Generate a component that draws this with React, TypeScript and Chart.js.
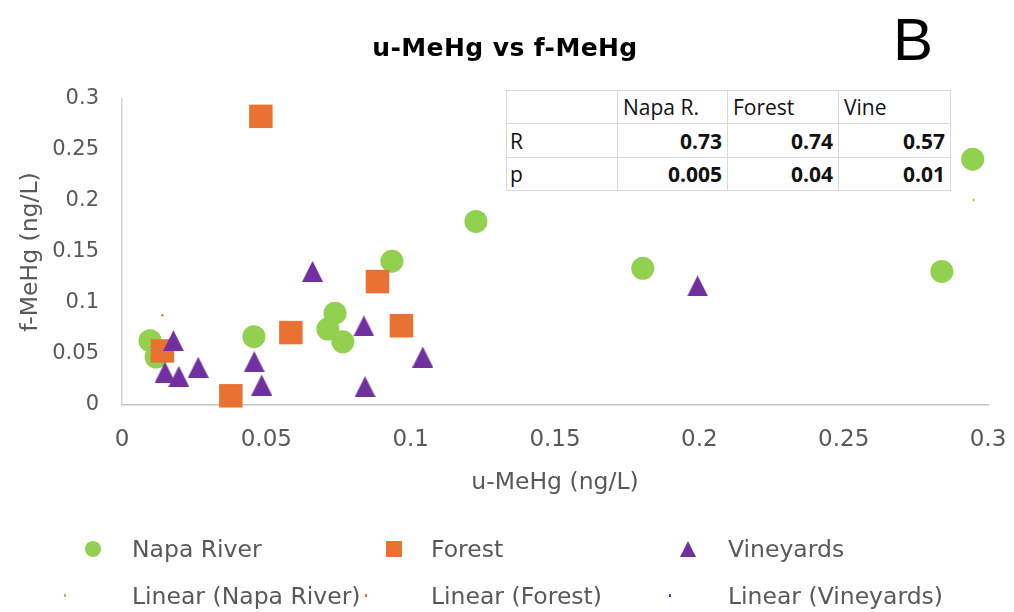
import React, { useEffect, useRef } from "react";
import { Chart, registerables } from "chart.js";

Chart.register(...registerables);

// ---- Data ----
const napaX = [0.0097, 0.0118, 0.0457, 0.0713, 0.0738, 0.0765, 0.0935, 0.1226, 0.1804, 0.284, 0.2947];
const napaY = [0.063, 0.047, 0.067, 0.0745, 0.09, 0.062, 0.141, 0.18, 0.134, 0.131, 0.241];

const forestX = [0.014, 0.0377, 0.0481, 0.0585, 0.0885, 0.0968];
const forestY = [0.053, 0.009, 0.283, 0.071, 0.121, 0.0777];

const vineX = [0.0149, 0.0178, 0.0197, 0.0264, 0.0458, 0.0484, 0.066, 0.0838, 0.0842, 0.1042, 0.1994];
const vineY = [0.032, 0.063, 0.028, 0.037, 0.0425, 0.0196, 0.131, 0.0775, 0.018, 0.047, 0.1167];

// barely visible trend-line remnants
const napaTrendX = [0.295];
const napaTrendY = [0.201];
const forestTrendX = [0.014];
const forestTrendY = [0.088];
const vineTrendX: number[] = [];
const vineTrendY: number[] = [];

const axisMin = 0;
const axisMax = 0.3;
const axisStep = 0.05;

const seriesNames = ["Napa River", "Forest", "Vineyards"];
const trendNames = ["Linear (Napa River)", "Linear (Forest)", "Linear (Vineyards)"];

const tableHeader = ["", "Napa R.", "Forest", "Vine"];
const tableRowR = ["R", "0.73", "0.74", "0.57"];
const tableRowP = ["p", "0.005", "0.04", "0.01"];

const chartTitle = "u-MeHg vs f-MeHg";
const panelLetter = "B";
const xTitle = "u-MeHg (ng/L)";
const yTitle = "f-MeHg (ng/L)";

const GREEN = "#92D050";
const ORANGE = "#E97132";
const PURPLE = "#7030A0";
const GRAY_TEXT = "#595959";
const DEJAVU = "'DejaVu Sans', sans-serif";

const pts = (xs: number[], ys: number[]) => xs.map((x, i) => ({ x, y: ys[i] }));

function makeTriangle(w: number, h: number, color: string) {
  const c = document.createElement("canvas");
  c.width = w;
  c.height = h;
  const g = c.getContext("2d")!;
  g.fillStyle = color;
  g.beginPath();
  g.moveTo(w / 2, 0);
  g.lineTo(w, h);
  g.lineTo(0, h);
  g.closePath();
  g.fill();
  return c;
}

const fmt = (v: number) => String(Number(v.toFixed(2)));

export default function App() {
  const ref = useRef<HTMLCanvasElement | null>(null);

  useEffect(() => {
    if (!ref.current) return;
    const tri = makeTriangle(21, 21, PURPLE);
    const chart = new Chart(ref.current, {
      type: "scatter",
      data: {
        datasets: [
          {
            label: seriesNames[0],
            data: pts(napaX, napaY),
            pointStyle: "circle",
            pointRadius: 11.5,
            backgroundColor: GREEN,
            borderWidth: 0,
            order: 2,
          },
          {
            label: seriesNames[1],
            data: pts(forestX, forestY),
            pointStyle: "rect",
            pointRadius: 16.6,
            backgroundColor: ORANGE,
            borderWidth: 0,
            order: 1,
          },
          {
            label: seriesNames[2],
            data: pts(vineX, vineY),
            pointStyle: tri as any,
            pointRadius: 11,
            backgroundColor: PURPLE,
            borderWidth: 0,
            order: 0,
          },
          {
            label: trendNames[0],
            data: pts(napaTrendX, napaTrendY),
            pointRadius: 1.2,
            backgroundColor: GREEN,
            borderWidth: 0,
            order: 3,
          },
          {
            label: trendNames[1],
            data: pts(forestTrendX, forestTrendY),
            pointRadius: 1.2,
            backgroundColor: ORANGE,
            borderWidth: 0,
            order: 3,
          },
          {
            label: trendNames[2],
            data: pts(vineTrendX, vineTrendY),
            pointRadius: 1.2,
            backgroundColor: PURPLE,
            borderWidth: 0,
            order: 3,
          },
        ],
      },
      options: {
        animation: false,
        responsive: false,
        devicePixelRatio: 1,
        events: [],
        clip: false as any,
        layout: { padding: { left: 0, right: 26, top: 99, bottom: 0 } },
        plugins: {
          legend: { display: false },
          tooltip: { enabled: false },
          title: { display: false },
        },
        scales: {
          x: {
            type: "linear",
            min: axisMin,
            max: axisMax,
            afterFit: (s: any) => {
              s.height = 207;
            },
            ticks: {
              stepSize: axisStep,
              padding: 3,
              color: GRAY_TEXT,
              font: { family: DEJAVU, size: 23, lineHeight: 2.75 },
              callback: (v: any) => fmt(Number(v)),
            },
            grid: { display: true, color: "rgba(0,0,0,0)", drawTicks: false },
            border: { display: true, color: "#c4c4c4", width: 1.5 },
            title: {
              display: true,
              text: xTitle,
              color: GRAY_TEXT,
              font: { family: DEJAVU, size: 23.5 },
              padding: { top: 0, bottom: 115 },
            },
          },
          y: {
            type: "linear",
            min: axisMin,
            max: axisMax,
            afterFit: (s: any) => {
              s.width = 122;
            },
            ticks: {
              stepSize: axisStep,
              padding: 23,
              color: GRAY_TEXT,
              font: { family: DEJAVU, size: 21 },
              callback: (v: any) => fmt(Number(v)),
            },
            grid: { display: true, color: "rgba(0,0,0,0)", drawTicks: false },
            border: { display: true, color: "#d4d4d4", width: 1.5 },
            title: {
              display: true,
              text: yTitle,
              color: GRAY_TEXT,
              font: { family: DEJAVU, size: 23.5 },
              padding: { top: 17, bottom: 0 },
            },
          },
        },
      },
    });
    return () => chart.destroy();
  }, []);

  const cellBase: React.CSSProperties = {
    border: "1px solid #d9d9d9",
    padding: "0 5px",
    fontFamily: "'Open Sans', sans-serif",
    fontSize: 21,
    color: "#111",
    whiteSpace: "nowrap",
  };
  const colW = [113, 110, 111, 112];
  const rowH = [33, 34, 33];

  const legendItems = [
    { name: seriesNames[0], kind: "circle", color: GREEN, mx: 93, tx: 132, cy: 549 },
    { name: seriesNames[1], kind: "square", color: ORANGE, mx: 394, tx: 431, cy: 549 },
    { name: seriesNames[2], kind: "triangle", color: PURPLE, mx: 688, tx: 728, cy: 549 },
    { name: trendNames[0], kind: "speck", color: GREEN, mx: 65, tx: 132, cy: 596 },
    { name: trendNames[1], kind: "speck", color: ORANGE, mx: 366, tx: 431, cy: 596 },
    { name: trendNames[2], kind: "speck", color: PURPLE, mx: 670, tx: 728, cy: 596 },
  ];

  const marker = (kind: string, color: string, mx: number, cy: number) => {
    if (kind === "circle")
      return <div style={{ position: "absolute", left: mx - 8, top: cy - 8, width: 16, height: 16, borderRadius: "50%", background: color }} />;
    if (kind === "square")
      return <div style={{ position: "absolute", left: mx - 8, top: cy - 8, width: 16, height: 16, background: color }} />;
    if (kind === "triangle")
      return (
        <div
          style={{
            position: "absolute",
            left: mx - 8,
            top: cy - 8,
            width: 0,
            height: 0,
            borderLeft: "8px solid transparent",
            borderRight: "8px solid transparent",
            borderBottom: `16px solid ${color}`,
          }}
        />
      );
    return <div style={{ position: "absolute", left: mx - 1, top: cy - 2, width: 2, height: 3, background: color }} />;
  };

  return (
    <div style={{ position: "absolute", left: 0, top: 0, width: 1014, height: 612, background: "#fff", overflow: "hidden" }}>
      <canvas ref={ref} width={1014} height={612} style={{ position: "absolute", left: 0, top: 0, width: 1014, height: 612 }} />
      <div
        style={{
          position: "absolute",
          left: 0,
          width: 1010,
          top: 30,
          lineHeight: "36px",
          textAlign: "center",
          fontFamily: DEJAVU,
          fontWeight: 700,
          fontSize: 25,
          letterSpacing: 0.4,
          color: "#000",
        }}
      >
        {chartTitle}
      </div>
      <div
        style={{
          position: "absolute",
          left: 893,
          top: 10,
          lineHeight: "60px",
          fontFamily: "'Liberation Sans', Arial, sans-serif",
          fontSize: 60,
          color: "#000",
        }}
      >
        {panelLetter}
      </div>
      <table
        style={{
          position: "absolute",
          left: 506,
          top: 90,
          borderCollapse: "collapse",
          tableLayout: "fixed",
          background: "#fff",
        }}
      >
        <tbody>
          {[tableHeader, tableRowR, tableRowP].map((row, ri) => (
            <tr key={ri} style={{ height: rowH[ri] }}>
              {row.map((c, ci) => (
                <td
                  key={ci}
                  style={{
                    ...cellBase,
                    width: colW[ci] - 11,
                    height: rowH[ri] - 1,
                    textAlign: ri === 0 || ci === 0 ? "left" : "right",
                    fontWeight: ri > 0 && ci > 0 ? 700 : 400,
                    paddingLeft: ci === 0 ? 3 : 5,
                  }}
                >
                  {c}
                </td>
              ))}
            </tr>
          ))}
        </tbody>
      </table>
      {legendItems.map((it, i) => (
        <React.Fragment key={i}>
          {marker(it.kind, it.color, it.mx, it.cy)}
          <div
            style={{
              position: "absolute",
              left: it.tx,
              top: it.cy - 16,
              lineHeight: "32px",
              fontFamily: DEJAVU,
              fontSize: 23.5,
              color: GRAY_TEXT,
              whiteSpace: "nowrap",
            }}
          >
            {it.name}
          </div>
        </React.Fragment>
      ))}
    </div>
  );
}
